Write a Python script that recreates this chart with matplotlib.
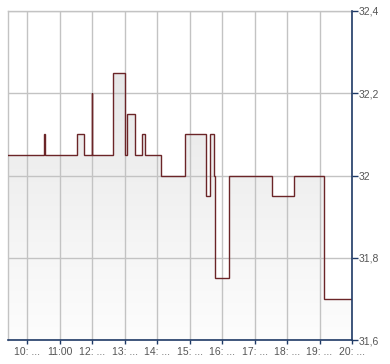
import matplotlib
matplotlib.use("Agg")
import matplotlib.pyplot as plt
import numpy as np
from matplotlib.patches import Polygon

# Data (hours as decimal, price)
times = [9.406, 10.505, 10.554, 11.521, 11.755, 11.985, 12.005, 12.649, 13.018,
         13.080, 13.326, 13.523, 13.634, 14.118, 14.866, 15.513, 15.636, 15.759,
         15.790, 16.221, 17.527, 18.223, 19.147, 20.0]
prices = [32.05, 32.1, 32.05, 32.1, 32.05, 32.2, 32.05, 32.25, 32.05,
          32.15, 32.05, 32.1, 32.05, 32.0, 32.1, 31.95, 32.1, 32.0,
          31.75, 32.0, 31.95, 32.0, 31.7, 31.7]
x_ticks = [10, 11, 12, 13, 14, 15, 16, 17, 18, 19, 20]
x_labels = ["10: ...", "11:00", "12: ...", "13: ...", "14: ...", "15: ...",
            "16: ...", "17: ...", "18: ...", "19: ...", "20: ..."]
y_ticks = [31.6, 31.8, 32.0, 32.2, 32.4]
y_labels = ["31,6", "31,8", "32", "32,2", "32,4"]

plt.rcParams['font.family'] = ['Liberation Sans', 'DejaVu Sans']

W, H = 390, 364
fig = plt.figure(figsize=(W / 100, H / 100), dpi=100)
ax = fig.add_axes([8 / W, (H - 340) / H, (352 - 8) / W, (340 - 11) / H])
xmin, xmax = times[0], 20.0
ymin, ymax = 31.6, 32.4
ax.set_xlim(xmin, xmax)
ax.set_ylim(ymin, ymax)

# step path
xs, ys = [], []
for i in range(len(times)):
    if i > 0:
        xs.append(times[i]); ys.append(prices[i - 1])
    xs.append(times[i]); ys.append(prices[i])

# gradient fill under the line
grad = np.linspace(0, 1, 256).reshape(-1, 1)
cmap = matplotlib.colors.LinearSegmentedColormap.from_list("g", ["#fdfdfd", "#e2e2e2"])
im = ax.imshow(grad, cmap=cmap, aspect="auto", extent=[xmin, xmax, ymin, ymax],
               origin="lower", zorder=1)
poly = Polygon(list(zip(xs, ys)) + [(xs[-1], ymin), (xs[0], ymin)],
               closed=True, facecolor="none", edgecolor="none")
ax.add_patch(poly)
im.set_clip_path(poly)

ax.grid(True, color="#c3c3c3", linewidth=1, zorder=2)
ax.set_axisbelow(False)
for gl in ax.get_xgridlines() + ax.get_ygridlines():
    gl.set_zorder(2)

ax.plot(xs, ys, color="#6b2528", linewidth=1.0, zorder=3, solid_joinstyle="miter")

ax.set_xticks(x_ticks)
ax.set_xticklabels(x_labels)
ax.set_yticks(y_ticks)
ax.set_yticklabels(y_labels)
ax.yaxis.tick_right()
ax.tick_params(axis="y", direction="out", length=4, width=1, color="#1f3a66",
               labelsize=7.5, labelcolor="#555555", pad=1)
ax.tick_params(axis="x", direction="out", length=3, width=1, color="#1f3a66",
               labelsize=7.5, labelcolor="#555555", pad=2)

for s in ["top", "left"]:
    ax.spines[s].set_color("#c3c3c3")
    ax.spines[s].set_linewidth(1)
for s in ["right", "bottom"]:
    ax.spines[s].set_color("#1f3a66")
    ax.spines[s].set_linewidth(1.2)
    ax.spines[s].set_zorder(5)

fig.savefig("out.png", dpi=100)
